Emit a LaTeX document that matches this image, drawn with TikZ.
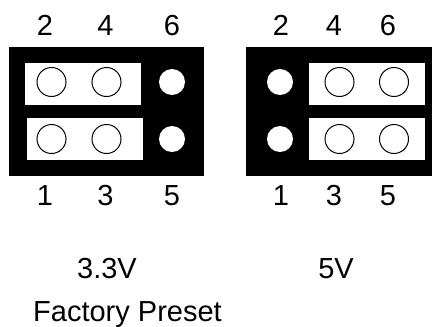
\documentclass[tikz,border=0pt]{standalone}
\usepackage{fontspec}
\setmainfont{Liberation Sans}
\tikzset{
  x=1pt,y=-1pt,
  board/.style={fill=black,draw=none},
  slot/.style={fill=white,draw=none},
  pinopen/.style={circle,draw=black,line width=1pt,fill=white,minimum size=29pt,inner sep=0pt},
  pinfull/.style={circle,fill=white,draw=none,minimum size=26pt,inner sep=0pt},
  lab/.style={font=\fontsize{29}{34}\selectfont,inner sep=0pt,anchor=base}
}
\begin{document}
\begin{tikzpicture}
\useasboundingbox (0,0) rectangle (432,327);
% left
\fill[board] (9,46.5) rectangle (203.5,175.5);
\fill[slot] (25,62.5) rectangle (141,104.5);
\fill[slot] (26.5,117.5) rectangle (143,159.5);
\node[pinopen] (a1) at (51.5,82) {};
\node[pinopen] (a2) at (106.5,82) {};
\node[pinopen] (a3) at (51.5,139) {};
\node[pinopen] (a4) at (106.5,139) {};
\node[pinfull] (a5) at (172,82) {};
\node[pinfull] (a6) at (172,139) {};
\node[lab] (l2) at (45,35) {2};
\node[lab] (l4) at (105.5,35) {4};
\node[lab] (l6) at (172,35) {6};
\node[lab] (l1) at (45,205.5) {1};
\node[lab] (l3) at (105.5,205.5) {3};
\node[lab] (l5) at (172,205.5) {5};
% right
\fill[board] (245.5,46.5) rectangle (432,175.5);
\fill[slot] (308.5,62.5) rectangle (424.5,104.5);
\fill[slot] (308.5,117.5) rectangle (424.5,159.5);
\node[pinopen] (b1) at (339.5,82) {};
\node[pinopen] (b2) at (394,82) {};
\node[pinopen] (b3) at (339.5,139) {};
\node[pinopen] (b4) at (394,139) {};
\node[pinfull] (b5) at (280,82) {};
\node[pinfull] (b6) at (280,139) {};
\node[lab] (r2) at (281,35) {2};
\node[lab] (r4) at (334,35) {4};
\node[lab] (r6) at (388,35) {6};
\node[lab] (r1) at (281,205.5) {1};
\node[lab] (r3) at (334,205.5) {3};
\node[lab] (r5) at (388,205.5) {5};
% captions
\node[lab] (t1) at (107,278) {3.3V};
\node[lab] (t2) at (336,278) {5V};
\node[lab,anchor=base west] (t3) at (33,321.5) {Factory Preset};
\end{tikzpicture}
\end{document}
